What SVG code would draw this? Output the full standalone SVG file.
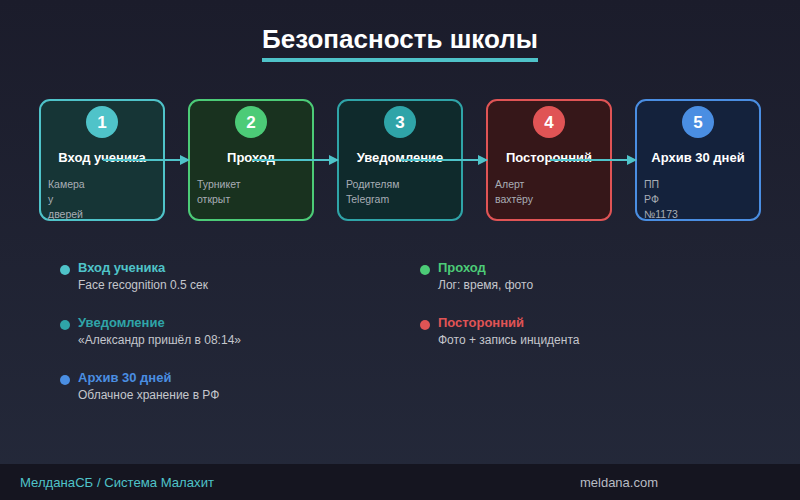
<svg xmlns="http://www.w3.org/2000/svg" width="800" height="500" viewBox="0 0 800 500">
<defs>
<linearGradient id="bg" x1="0" y1="0" x2="0" y2="1"><stop offset="0" stop-color="#1b1c2b"/><stop offset="1" stop-color="#24293a"/></linearGradient>
<marker id="ah" markerWidth="10" markerHeight="10" refX="9" refY="5" orient="auto" markerUnits="userSpaceOnUse"><path d="M0,0 L10,5 L0,10 Z" fill="#4fc3c9"/></marker>
<style>
.t{font-family:"Liberation Sans",Arial,sans-serif}
.nt{font-size:13px;font-weight:bold;fill:#ffffff;text-anchor:middle}
.nn{font-size:17px;font-weight:bold;fill:#ffffff;text-anchor:middle}
.ns{font-size:10.5px;fill:#a8adb5}
.lh{font-size:13px;font-weight:bold}
.ls{font-size:12px;fill:#c4c6cc}
.c{fill:none;stroke:#4fc3c9;stroke-width:2}
</style>
</defs>
<rect width="800" height="500" fill="url(#bg)"/>
<text class="t" x="400" y="48" text-anchor="middle" font-size="26" font-weight="bold" fill="#ffffff">Безопасность школы</text>
<rect x="262" y="58" width="276" height="4" fill="#4fc3c9"/>

<g id="node1">
<rect x="40" y="100" width="124" height="120" rx="10" fill="#163536" stroke="#4fc3c9" stroke-width="2"/>
<circle cx="102" cy="122" r="16" fill="#4fc3c9"/>
<text class="t nn" x="102" y="128">1</text>
<text class="t nt" x="102" y="162">Вход ученика</text>
<text class="t ns" x="48" y="188">Камера</text>
<text class="t ns" x="48" y="203">у</text>
<text class="t ns" x="48" y="218">дверей</text>
</g>
<g id="node2">
<rect x="189" y="100" width="124" height="120" rx="10" fill="#19321f" stroke="#4ccb77" stroke-width="2"/>
<circle cx="251" cy="122" r="16" fill="#4ccb77"/>
<text class="t nn" x="251" y="128">2</text>
<text class="t nt" x="251" y="162">Проход</text>
<text class="t ns" x="197" y="188">Турникет</text>
<text class="t ns" x="197" y="203">открыт</text>
</g>
<g id="node3">
<rect x="338" y="100" width="124" height="120" rx="10" fill="#0f2a2c" stroke="#2fa4a8" stroke-width="2"/>
<circle cx="400" cy="122" r="16" fill="#2fa4a8"/>
<text class="t nn" x="400" y="128">3</text>
<text class="t nt" x="400" y="162">Уведомление</text>
<text class="t ns" x="346" y="188">Родителям</text>
<text class="t ns" x="346" y="203">Telegram</text>
</g>
<g id="node4">
<rect x="487" y="100" width="124" height="120" rx="10" fill="#361719" stroke="#e05455" stroke-width="2"/>
<circle cx="549" cy="122" r="16" fill="#e05455"/>
<text class="t nn" x="549" y="128">4</text>
<text class="t nt" x="549" y="162">Посторонний</text>
<text class="t ns" x="495" y="188">Алерт</text>
<text class="t ns" x="495" y="203">вахтёру</text>
</g>
<g id="node5">
<rect x="636" y="100" width="124" height="120" rx="10" fill="#14223c" stroke="#4a8ee2" stroke-width="2"/>
<circle cx="698" cy="122" r="16" fill="#4a8ee2"/>
<text class="t nn" x="698" y="128">5</text>
<text class="t nt" x="698" y="162">Архив 30 дней</text>
<text class="t ns" x="644" y="188">ПП</text>
<text class="t ns" x="644" y="203">РФ</text>
<text class="t ns" x="644" y="218">№1173</text>
</g>

<g id="connectors">
<line class="c" x1="103" y1="160" x2="189" y2="160" marker-end="url(#ah)"/>
<line class="c" x1="252" y1="160" x2="338" y2="160" marker-end="url(#ah)"/>
<line class="c" x1="401" y1="160" x2="487" y2="160" marker-end="url(#ah)"/>
<line class="c" x1="550" y1="160" x2="636" y2="160" marker-end="url(#ah)"/>
</g>

<g id="legend">
<circle cx="65" cy="270" r="5" fill="#4fc3c9"/>
<text class="t lh" x="78" y="272" fill="#4fc3c9">Вход ученика</text>
<text class="t ls" x="78" y="289">Face recognition 0.5 сек</text>
<circle cx="425" cy="270" r="5" fill="#4ccb77"/>
<text class="t lh" x="438" y="272" fill="#4ccb77">Проход</text>
<text class="t ls" x="438" y="289">Лог: время, фото</text>
<circle cx="65" cy="325" r="5" fill="#2fa4a8"/>
<text class="t lh" x="78" y="327" fill="#2fa4a8">Уведомление</text>
<text class="t ls" x="78" y="344">«Александр пришёл в 08:14»</text>
<circle cx="425" cy="325" r="5" fill="#e05455"/>
<text class="t lh" x="438" y="327" fill="#e05455">Посторонний</text>
<text class="t ls" x="438" y="344">Фото + запись инцидента</text>
<circle cx="65" cy="380" r="5" fill="#4a8ee2"/>
<text class="t lh" x="78" y="382" fill="#4a8ee2">Архив 30 дней</text>
<text class="t ls" x="78" y="399">Облачное хранение в РФ</text>
</g>

<rect x="0" y="464" width="800" height="36" fill="#151520"/>
<text class="t" x="20" y="487" font-size="13" fill="#4fc3c9" textLength="194" lengthAdjust="spacingAndGlyphs">МелданаСБ / Система Малахит</text>
<text class="t" x="658" y="487" font-size="13" fill="#b8bcc4" text-anchor="end">meldana.com</text>
</svg>
